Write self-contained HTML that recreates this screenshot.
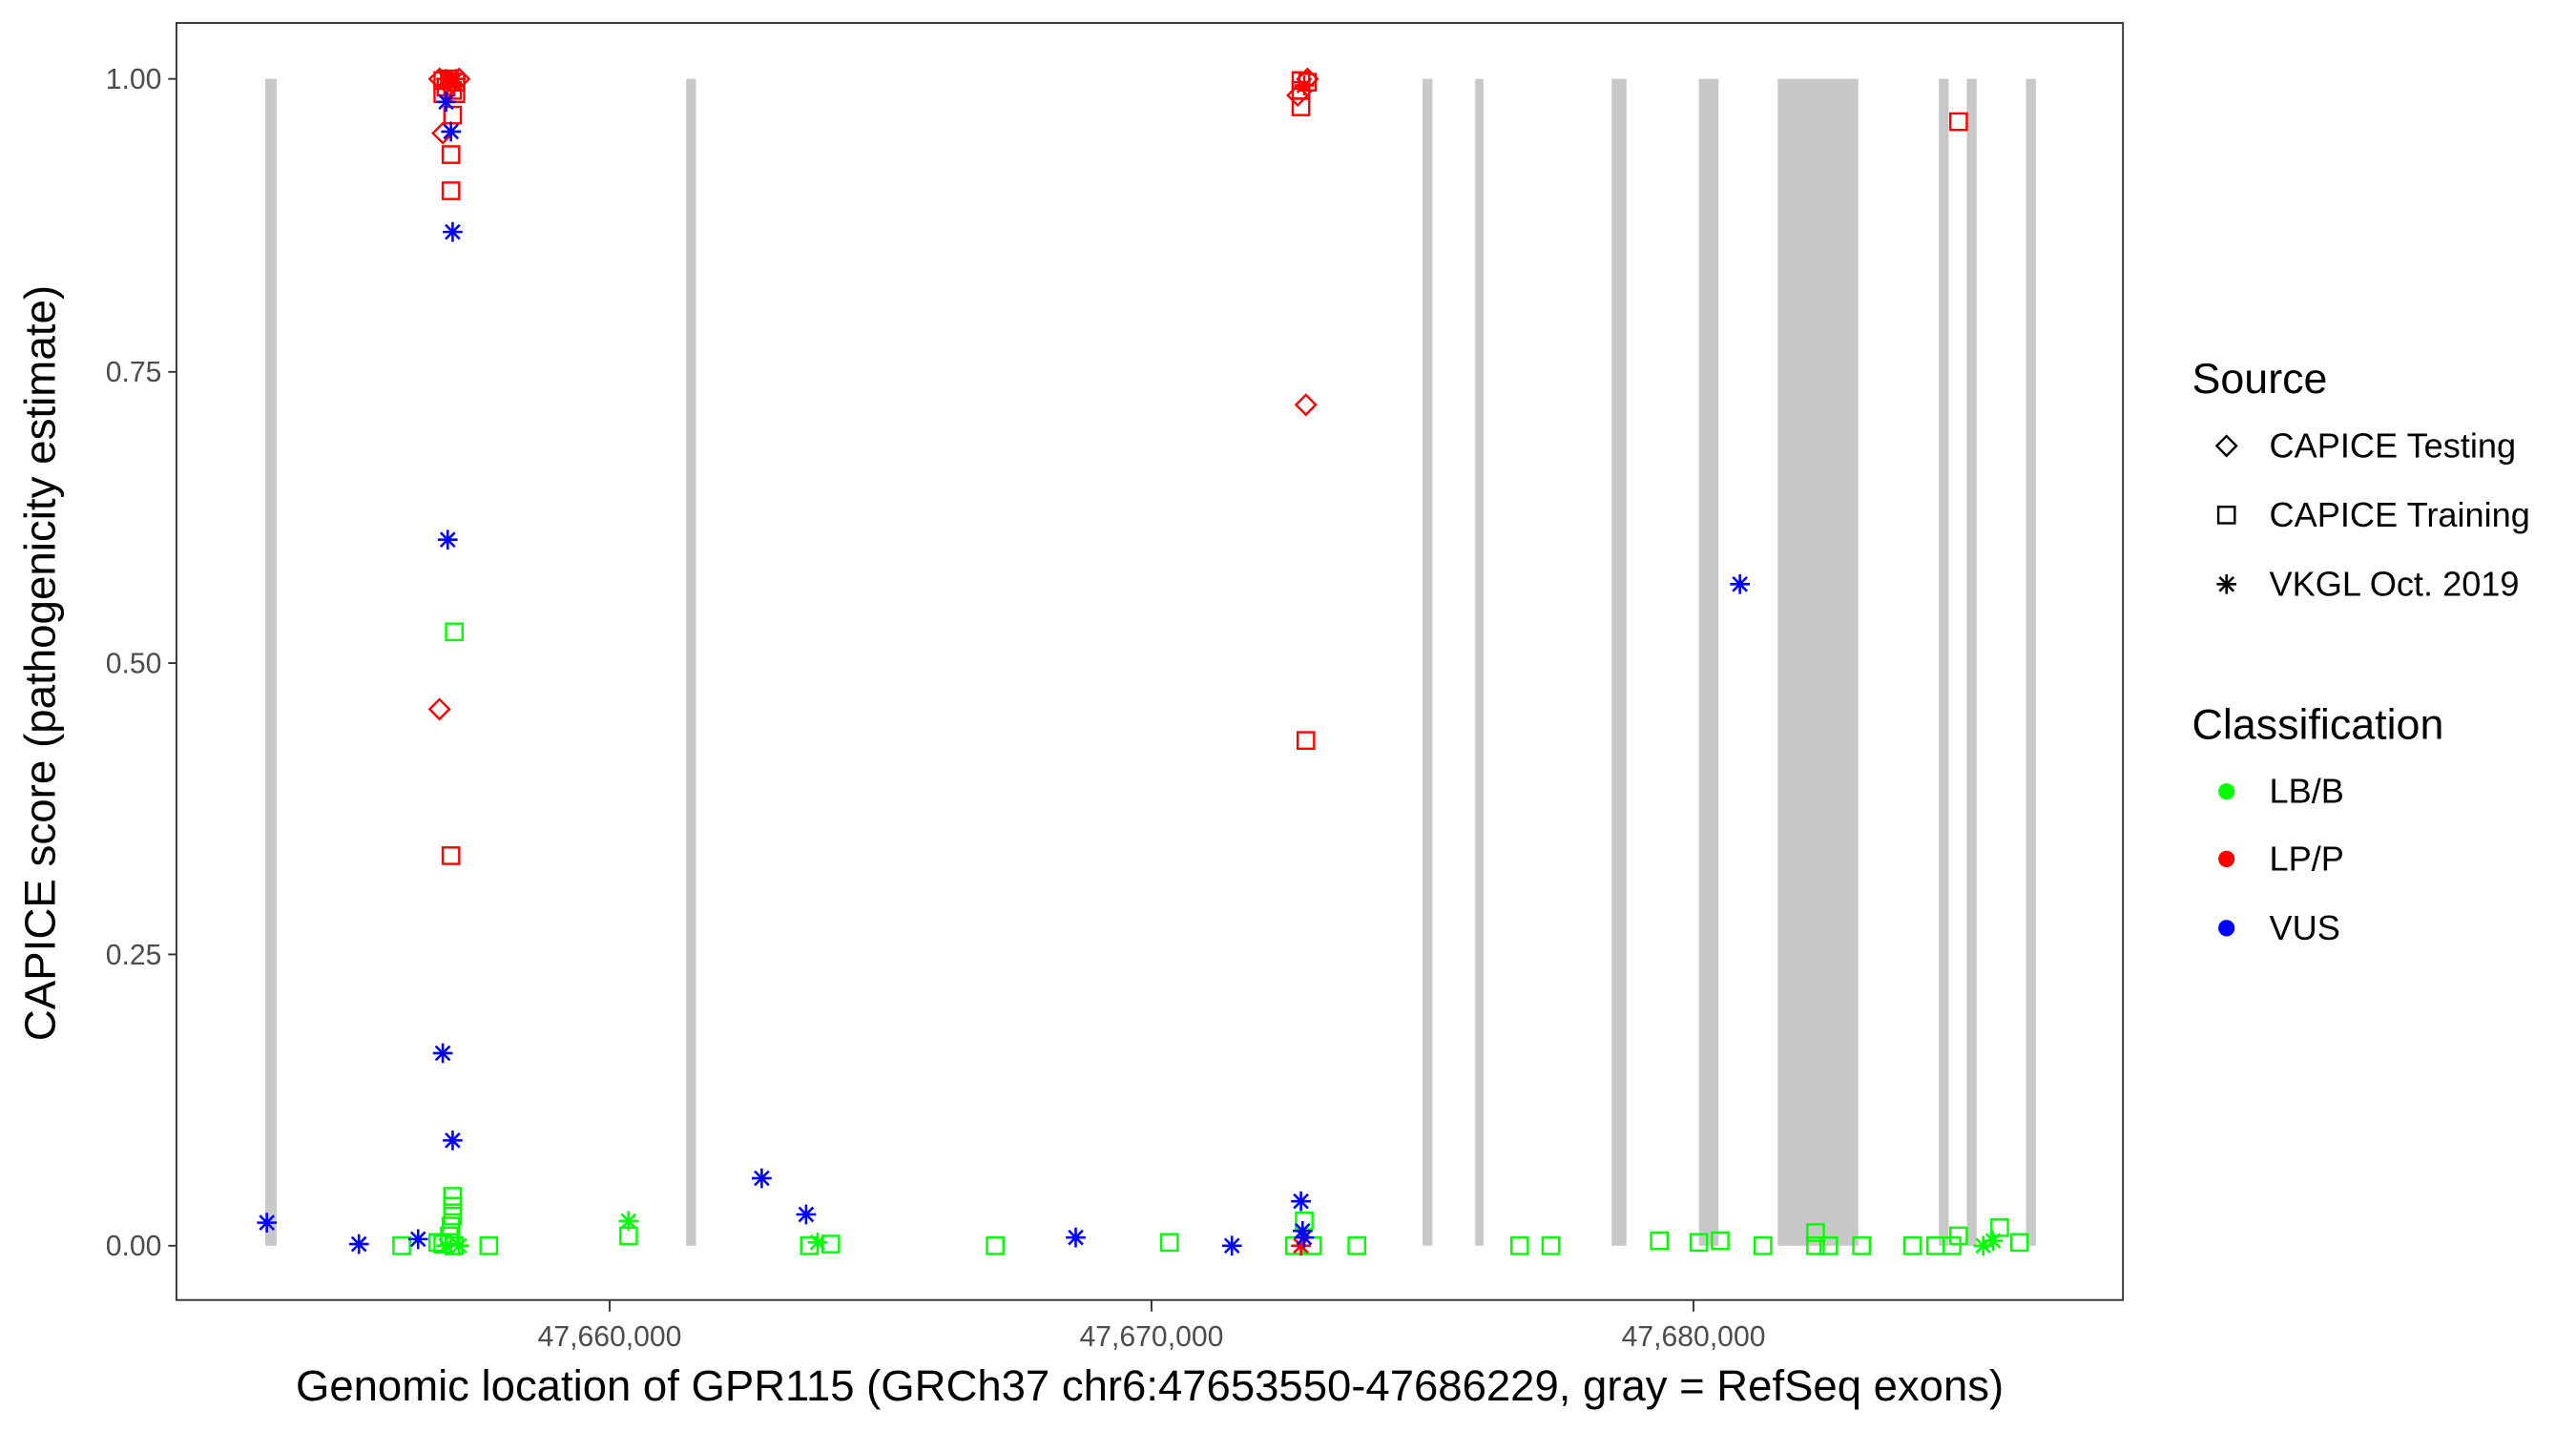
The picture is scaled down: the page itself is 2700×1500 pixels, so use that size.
<!DOCTYPE html>
<html><head><meta charset="utf-8"><style>html,body{margin:0;padding:0;background:#fff}svg{display:block}</style></head>
<body>
<svg width="2700" height="1500" viewBox="0 0 1552 873" preserveAspectRatio="none" xmlns="http://www.w3.org/2000/svg" font-family="Liberation Sans, sans-serif">
<defs>
<g id="sq"><rect x="-5" y="-5" width="10" height="10" fill="none" stroke-width="1.4"/></g>
<g id="dm"><path d="M0,-6 L6,0 L0,6 L-6,0 Z" fill="none" stroke-width="1.4"/></g>
<g id="st" stroke-width="1.5"><path d="M-6,0H6M0,-6V6M-4.3,-4.3L4.3,4.3M-4.3,4.3L4.3,-4.3"/></g>
</defs>
<rect x="0" y="0" width="1552" height="873" fill="#fff"/>
<g transform="matrix(0.9905 0 0 1.004 1.31 -0.06)">
<g fill="#c8c8c8">
<rect x="160" y="48" width="7" height="709"/><rect x="416" y="48" width="6" height="709"/>
<rect x="864" y="48" width="6" height="709"/><rect x="896" y="48" width="5" height="709"/>
<rect x="979" y="48" width="9" height="709"/><rect x="1032" y="48" width="12" height="709"/>
<rect x="1080" y="48" width="49" height="709"/><rect x="1178" y="48" width="6" height="709"/>
<rect x="1195" y="48" width="6" height="709"/><rect x="1231" y="48" width="6" height="709"/>
</g>
<g stroke="#00ff00">
<use href="#sq" x="275" y="384"/><use href="#sq" x="274" y="727"/><use href="#sq" x="274" y="733"/><use href="#sq" x="274" y="739"/><use href="#sq" x="273" y="745"/><use href="#sq" x="272" y="751"/><use href="#sq" x="268" y="756"/><use href="#sq" x="275" y="757"/><use href="#sq" x="265" y="755"/><use href="#sq" x="243" y="757"/><use href="#sq" x="296" y="757"/>
<use href="#st" x="270" y="757"/><use href="#st" x="278" y="757"/>
<use href="#st" x="381" y="742"/><use href="#sq" x="381" y="751"/>
<use href="#sq" x="491" y="757"/><use href="#st" x="496" y="755"/><use href="#sq" x="504" y="756"/><use href="#sq" x="604" y="757"/><use href="#sq" x="710" y="755"/>
<use href="#sq" x="786" y="757"/><use href="#sq" x="792" y="742"/><use href="#sq" x="797" y="757"/><use href="#sq" x="824" y="757"/>
<use href="#sq" x="923" y="757"/><use href="#sq" x="942" y="757"/><use href="#sq" x="1008" y="754"/><use href="#sq" x="1032" y="755"/><use href="#sq" x="1045" y="754"/><use href="#sq" x="1071" y="757"/><use href="#sq" x="1103" y="749"/><use href="#sq" x="1103" y="757"/><use href="#sq" x="1111" y="757"/><use href="#sq" x="1131" y="757"/><use href="#sq" x="1162" y="757"/><use href="#sq" x="1176" y="757"/><use href="#sq" x="1186" y="757"/><use href="#sq" x="1190" y="751"/><use href="#st" x="1205" y="757"/><use href="#st" x="1211" y="754"/><use href="#sq" x="1215" y="746"/><use href="#sq" x="1227" y="755"/>
</g>
<g stroke="#ff0000">
<use href="#sq" x="268" y="49"/><use href="#sq" x="272" y="48"/><use href="#sq" x="276" y="50"/><use href="#sq" x="270" y="53"/><use href="#sq" x="274" y="55"/><use href="#sq" x="268" y="57"/><use href="#sq" x="276" y="57"/>
<use href="#dm" x="266" y="48"/><use href="#dm" x="278" y="48"/><use href="#dm" x="272" y="52"/>
<use href="#st" x="270" y="48"/><use href="#st" x="276" y="48"/>
<use href="#sq" x="274" y="70"/><use href="#dm" x="268" y="81"/><use href="#sq" x="273" y="94"/><use href="#sq" x="273" y="116"/><use href="#sq" x="273" y="520"/><use href="#dm" x="266" y="431"/>
<use href="#sq" x="790" y="49"/><use href="#sq" x="794" y="50"/><use href="#sq" x="790" y="55"/><use href="#sq" x="790" y="65"/><use href="#dm" x="788" y="58"/><use href="#dm" x="794" y="48"/><use href="#st" x="792" y="52"/>
<use href="#dm" x="793" y="246"/><use href="#sq" x="793" y="450"/><use href="#sq" x="1190" y="74"/><use href="#st" x="790" y="757"/>
</g>
<g stroke="#0000ff">
<use href="#st" x="270" y="62"/><use href="#st" x="273" y="80"/><use href="#st" x="274" y="141"/><use href="#st" x="271" y="328"/><use href="#st" x="268" y="640"/><use href="#st" x="274" y="693"/>
<use href="#st" x="161" y="743"/><use href="#st" x="217" y="756"/><use href="#st" x="253" y="753"/><use href="#st" x="462" y="716"/><use href="#st" x="489" y="738"/><use href="#st" x="653" y="752"/><use href="#st" x="748" y="757"/>
<use href="#st" x="790" y="730"/><use href="#st" x="791" y="748"/><use href="#st" x="792" y="752"/><use href="#st" x="1057" y="355"/>
</g>
<rect x="106" y="14" width="1184" height="776" fill="none" stroke="#333" stroke-width="1.1"/>
<g stroke="#333" stroke-width="1.1">
<path d="M101,48H106M101,226H106M101,403H106M101,580H106M101,757H106"/>
<path d="M369.5,790V797M699.1,790V797M1028.8,790V797"/>
</g>
<g fill="#4d4d4d" font-size="17.5" text-anchor="end">
<text x="97" y="54">1.00</text><text x="97" y="232">0.75</text><text x="97" y="409">0.50</text><text x="97" y="586">0.25</text><text x="97" y="763">0.00</text>
</g>
<g fill="#4d4d4d" font-size="17.5" text-anchor="middle">
<text x="369.5" y="818">47,660,000</text><text x="699.1" y="818">47,670,000</text><text x="1028.8" y="818">47,680,000</text>
</g>
<text x="698" y="851" font-size="26.4" text-anchor="middle" fill="#000">Genomic location of GPR115 (GRCh37 chr6:47653550-47686229, gray = RefSeq exons)</text>
<text transform="translate(32,403) rotate(-90)" font-size="26.5" text-anchor="middle" fill="#000">CAPICE score (pathogenicity estimate)</text>
<text x="1332" y="239" font-size="26" fill="#000">Source</text>
<g stroke="#000"><use href="#dm" x="1353" y="271"/><use href="#sq" x="1353" y="313"/><use href="#st" x="1353" y="355"/></g>
<g font-size="21" fill="#000"><text x="1379" y="278">CAPICE Testing</text><text x="1379" y="320">CAPICE Training</text><text x="1379" y="362">VKGL Oct. 2019</text></g>
<text x="1332" y="449" font-size="26" fill="#000">Classification</text>
<circle cx="1353" cy="481" r="5" fill="#00ff00"/><circle cx="1353" cy="522" r="5" fill="#ff0000"/><circle cx="1353" cy="564" r="5" fill="#0000ff"/>
<g font-size="21" fill="#000"><text x="1379" y="488">LB/B</text><text x="1379" y="529">LP/P</text><text x="1379" y="571">VUS</text></g>
</g>
</svg>
</body></html>
